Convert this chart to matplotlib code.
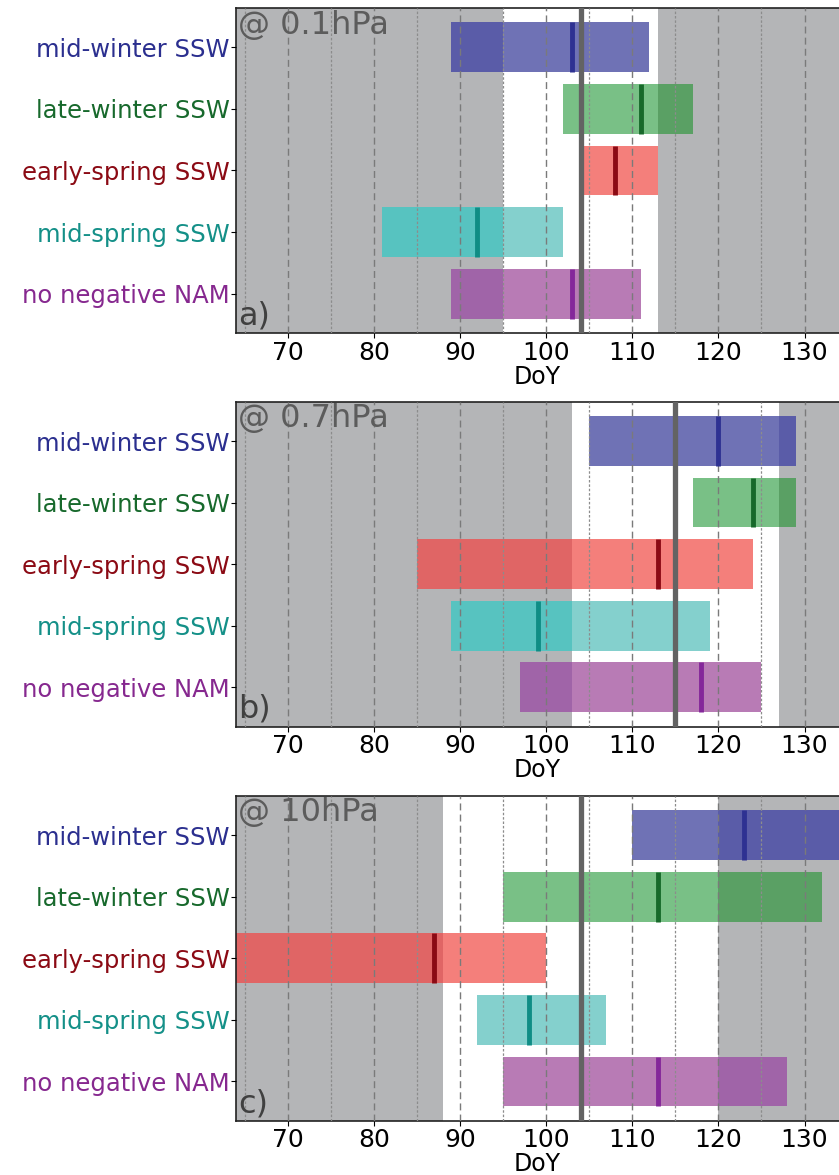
import matplotlib
matplotlib.use("Agg")
import matplotlib.pyplot as plt
from matplotlib.ticker import MultipleLocator

plt.rcParams['font.family'] = ['DejaVu Sans']

categories = ["mid-winter SSW", "late-winter SSW", "early-spring SSW",
              "mid-spring SSW", "no negative NAM"]
label_colors = ["#2b2f8f", "#17692c", "#8b0a14", "#149088", "#86288f"]
# bar colour inside the reference window and over the grey shading
light_colors = ["#6f72b5", "#79c086", "#f47f7b", "#84d0cd", "#b87bb5"]
dark_colors = ["#5a5ca8", "#5aa064", "#e06565", "#57c3c0", "#a064a8"]
median_colors = ["#2e3192", "#17692a", "#8b0a14", "#0f8d85", "#84279a"]

levels = ["@ 0.1hPa", "@ 0.7hPa", "@ 10hPa"]
panel_tags = ["a)", "b)", "c)"]

# reference window (white region) and climatological date per level
window_lo = [95, 103, 88]
window_hi = [113, 127, 120]
clim_doy = [104, 115, 104]

# bar start / end / median DoY per level, order as categories
starts = [
    [89, 102, 104, 81, 89],
    [105, 117, 85, 89, 97],
    [110, 95, 63, 92, 95],
]
ends = [
    [112, 117, 113, 102, 111],
    [129, 129, 124, 119, 125],
    [135, 132, 100, 107, 128],
]
medians = [
    [103, 111, 108, 92, 103],
    [120, 124, 113, 99, 118],
    [123, 113, 87, 98, 113],
]

xlim = (64, 134)
grey = "#b4b5b7"
bar_h = 0.81

fig = plt.figure(figsize=(8.39, 11.75), dpi=100)
tops = [0.9932, 0.6582, 0.3227]
height = 0.2766

for k in range(3):
    ax = fig.add_axes([0.2813, tops[k] - height, 0.7187, height])
    ax.set_facecolor("white")
    spans = [ax.axvspan(xlim[0], window_lo[k], color=grey, zorder=0.2, lw=0),
             ax.axvspan(window_hi[k], xlim[1], color=grey, zorder=0.2, lw=0)]

    y = list(range(len(categories)))
    widths = [e - s for s, e in zip(starts[k], ends[k])]
    ax.barh(y, widths, left=starts[k], height=bar_h, color=light_colors,
            zorder=1, lw=0)
    # darker tone where the bars lie over the grey shading
    for sp in spans:
        bars = ax.barh(y, widths, left=starts[k], height=bar_h,
                       color=dark_colors, zorder=1.1, lw=0)
        for b in bars:
            b.set_clip_path(sp)

    for i in y:
        ax.vlines(medians[k][i], i - bar_h / 2, i + bar_h / 2,
                  color=median_colors[i], lw=3.5, zorder=3)
    ax.axvline(clim_doy[k], color="#636363", lw=3.8, zorder=4)

    ax.set_xlim(*xlim)
    ax.set_ylim(len(categories) - 1 + 0.64, -0.64)
    ax.xaxis.set_major_locator(MultipleLocator(10))
    ax.xaxis.set_minor_locator(MultipleLocator(5))
    ax.set_axisbelow(False)
    ax.grid(True, which="major", axis="x", color="#7a7a7a", ls=(0, (5, 3)), lw=1.0)
    ax.grid(True, which="minor", axis="x", color="#8c8c8c", ls=(0, (2, 1.5)), lw=0.9)
    ax.tick_params(axis="x", which="minor", length=0)
    ax.tick_params(axis="x", which="major", labelsize=18, pad=2)
    ax.tick_params(axis="y", which="major", labelsize=17.5, pad=1)

    ax.set_yticks(y)
    ax.set_yticklabels(categories)
    for lab, c in zip(ax.get_yticklabels(), label_colors):
        lab.set_color(c)

    ax.set_xlabel("DoY", fontsize=17, labelpad=0)
    ax.spines["right"].set_visible(False)
    for sp in ["left", "top", "bottom"]:
        ax.spines[sp].set_color("#222222")
        ax.spines[sp].set_linewidth(1.2)

    ax.text(0.004, 0.995, levels[k], transform=ax.transAxes, ha="left", va="top",
            fontsize=23, color="#5c5c5c", zorder=5)
    ax.text(0.004, 0.005, panel_tags[k], transform=ax.transAxes, ha="left",
            va="bottom", fontsize=23, color="#404040", zorder=5)

fig.savefig("out.png", dpi=100)
